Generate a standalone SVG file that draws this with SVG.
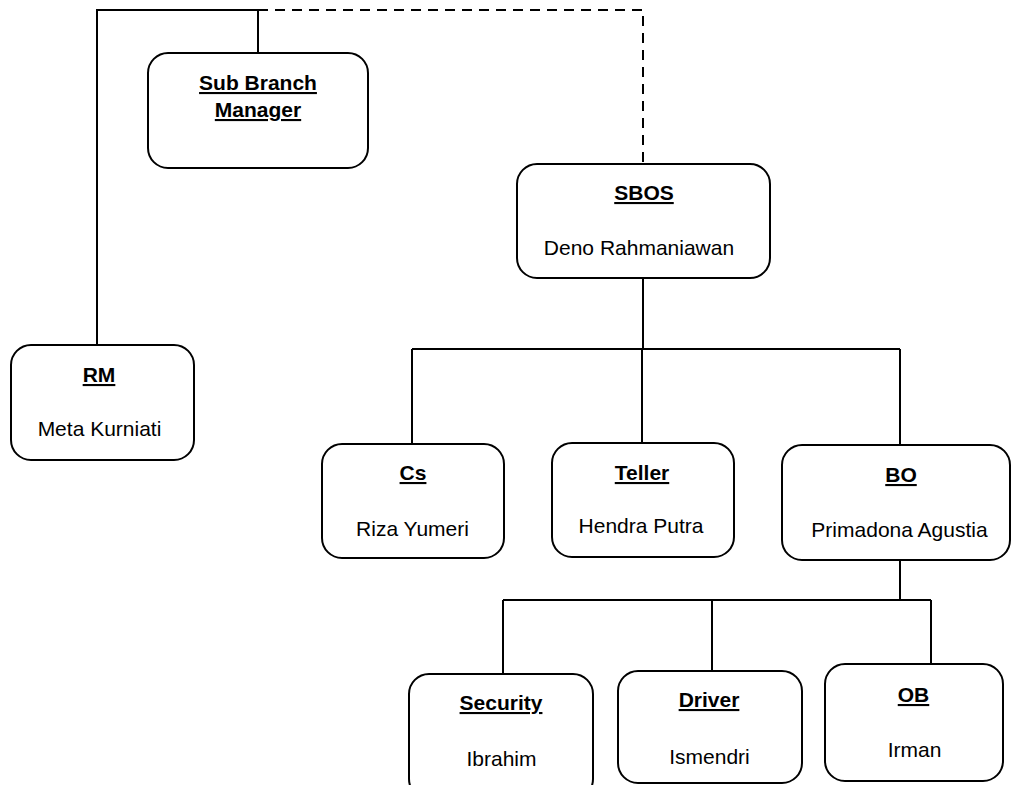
<svg xmlns="http://www.w3.org/2000/svg" width="1011" height="785" viewBox="0 0 1011 785">
<style>
.box{fill:#fff;stroke:#000;stroke-width:2}
.ln{fill:none;stroke:#000;stroke-width:2}
.dash{fill:none;stroke:#000;stroke-width:2;stroke-dasharray:10 7}
text{font-family:"Liberation Sans",Arial,sans-serif;font-size:21px;fill:#000;text-anchor:middle}
.t{font-weight:bold;text-decoration:underline}
</style>
<rect width="1011" height="785" fill="#fff"/>
<g id="connectors">
<polyline class="ln" points="97,345 97,10 258,10"/>
<line class="ln" x1="258" y1="10" x2="258" y2="53"/>
<polyline class="dash" points="258,10 643,10 643,164"/>
<line class="ln" x1="643" y1="278" x2="643" y2="349"/>
<line class="ln" x1="412" y1="349" x2="900" y2="349"/>
<line class="ln" x1="412" y1="349" x2="412" y2="444"/>
<line class="ln" x1="642" y1="349" x2="642" y2="443"/>
<line class="ln" x1="900" y1="349" x2="900" y2="445"/>
<line class="ln" x1="900" y1="560" x2="900" y2="600"/>
<line class="ln" x1="503" y1="600" x2="931" y2="600"/>
<line class="ln" x1="503" y1="600" x2="503" y2="674"/>
<line class="ln" x1="712" y1="600" x2="712" y2="671"/>
<line class="ln" x1="931" y1="600" x2="931" y2="664"/>
</g>
<g id="sbm">
<rect class="box" x="148" y="53" width="220" height="115" rx="20"/>
<text class="t" x="258" y="90">Sub Branch</text>
<text class="t" x="258" y="117">Manager</text>
</g>
<g id="sbos">
<rect class="box" x="517" y="164" width="253" height="114" rx="20"/>
<text class="t" x="644" y="200">SBOS</text>
<text x="639" y="255">Deno Rahmaniawan</text>
</g>
<g id="rm">
<rect class="box" x="11" y="345" width="183" height="115" rx="20"/>
<text class="t" x="99" y="382">RM</text>
<text x="99.5" y="436">Meta Kurniati</text>
</g>
<g id="cs">
<rect class="box" x="322" y="444" width="182" height="114" rx="20"/>
<text class="t" x="413" y="480">Cs</text>
<text x="412.5" y="536">Riza Yumeri</text>
</g>
<g id="teller">
<rect class="box" x="552" y="443" width="182" height="114" rx="20"/>
<text class="t" x="642" y="480">Teller</text>
<text x="641" y="533">Hendra Putra</text>
</g>
<g id="bo">
<rect class="box" x="782" y="445" width="228" height="115" rx="20"/>
<text class="t" x="901" y="482">BO</text>
<text x="899.5" y="537">Primadona Agustia</text>
</g>
<g id="security">
<rect class="box" x="409" y="674" width="184" height="125" rx="20"/>
<text class="t" x="501" y="710">Security</text>
<text x="501.5" y="766">Ibrahim</text>
</g>
<g id="driver">
<rect class="box" x="618" y="671" width="184" height="112" rx="20"/>
<text class="t" x="709" y="707">Driver</text>
<text x="709.5" y="764">Ismendri</text>
</g>
<g id="ob">
<rect class="box" x="825" y="664" width="178" height="117" rx="20"/>
<text class="t" x="913.5" y="702">OB</text>
<text x="914.5" y="757">Irman</text>
</g>
</svg>
